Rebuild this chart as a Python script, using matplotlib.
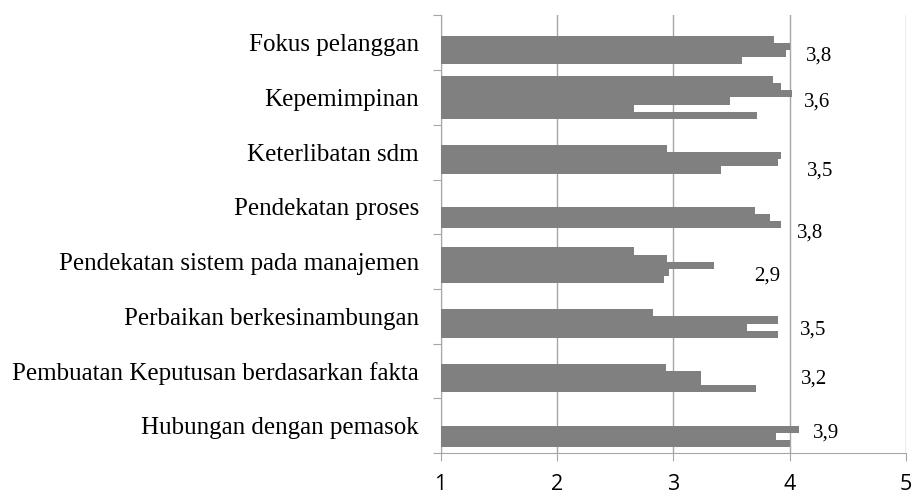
import numpy as np
import matplotlib.pyplot as plt

categories = ['Fokus pelanggan', 'Kepemimpinan', 'Keterlibatan sdm', 'Pendekatan proses',
              'Pendekatan sistem pada manajemen', 'Perbaikan berkesinambungan',
              'Pembuatan Keputusan berdasarkan fakta', 'Hubungan dengan pemasok']

nan = np.nan
# one list per series, series 1 is the lowest bar inside each category
s1 = [3.59, 3.72, 3.41, 3.93, 2.92, 3.90, 3.71, 4.00]
s2 = [3.97, 2.66, 3.90, 3.83, 2.96, 3.63, 3.24, 3.88]
s3 = [4.00, 3.49, 3.93, 3.70, 3.35, 3.90, 3.24, 4.08]
s4 = [3.87, 4.02, 2.95, nan, 2.95, 2.83, 2.94, nan]
s5 = [nan, 3.93, nan, nan, 2.66, nan, nan, nan]
s6 = [nan, 3.86, nan, nan, nan, nan, nan, nan]
series = [s1, s2, s3, s4, s5, s6]

avg_labels = ['3,8', '3,6', '3,5', '3,8', '2,9', '3,5', '3,2', '3,9']
# where the average labels sit (x value, height inside the category band)
label_x = [4.25, 4.24, 4.26, 4.18, 3.81, 4.20, 4.21, 4.31]
label_dy = [0.26, 0.41, 0.16, 0.03, 0.24, 0.25, 0.35, 0.36]

grey = '#a6a6a6'
bar_h = 0.13
gap = (1 - len(series) * bar_h) / 2

fig = plt.figure(figsize=(9.15, 4.93), dpi=100)
ax = fig.add_axes([0.4816, 0.0807, 0.5084, 0.8881])

n = len(categories)
band = np.array([n - 1 - i for i in range(n)], dtype=float)  # bottom of each band

for k, vals in enumerate(series):
    ax.barh(band + gap + (k + 0.5) * bar_h, vals, height=bar_h, color='#808080',
            linewidth=0, zorder=3)

for i, txt in enumerate(avg_labels):
    ax.text(label_x[i], band[i] + label_dy[i], txt, ha='center', va='center',
            fontsize=15, family='Liberation Serif', color='black')

ax.set_xlim(1, 5)
ax.set_ylim(0, n)
ax.set_xticks([1, 2, 3, 4, 5])
ax.set_xticklabels(['1', '2', '3', '4', '5'], family='Open Sans', fontsize=15.5)
ax.set_yticks(range(n + 1))
ax.set_yticklabels([])
ax.set_yticks(band + 0.5, minor=True)
ax.set_yticklabels(categories, minor=True, family='Liberation Serif', fontsize=18)

ax.tick_params(axis='y', which='major', direction='out', length=5.6, color=grey)
ax.tick_params(axis='y', which='minor', length=0, pad=15.6)
ax.tick_params(axis='x', direction='out', length=5.8, color=grey, pad=9)

ax.grid(axis='x', color=grey, linewidth=1, zorder=0)
ax.set_axisbelow(True)
for side in ['top', 'right']:
    ax.spines[side].set_visible(False)
for side in ['left', 'bottom']:
    ax.spines[side].set_color(grey)

plt.savefig('out.png', dpi=100)
